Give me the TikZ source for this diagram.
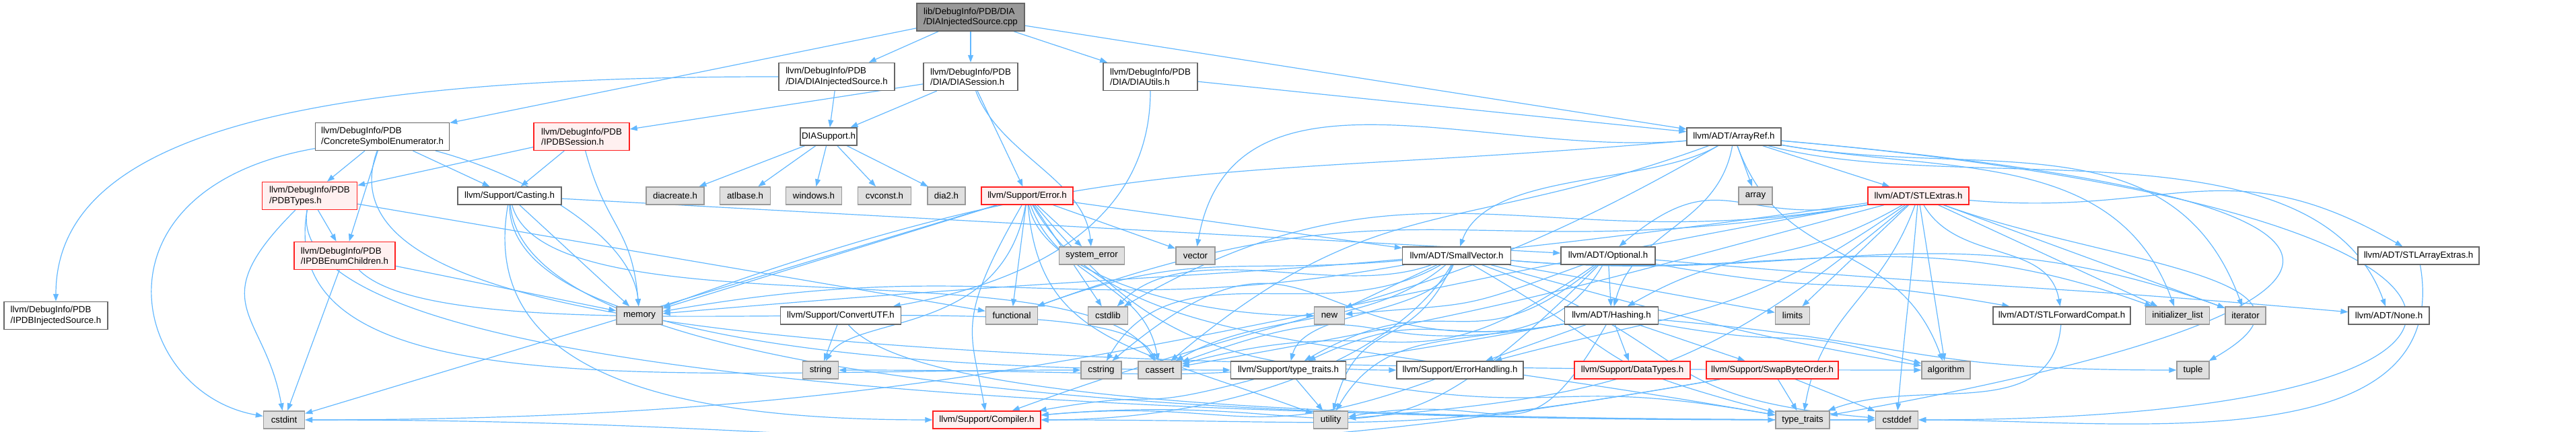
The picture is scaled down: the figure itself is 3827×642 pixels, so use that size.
\documentclass[tikz,border=0pt]{standalone}
\usepackage{fontspec}
\setmainfont{Liberation Sans}
\usetikzlibrary{arrows.meta}
\definecolor{edgec}{HTML}{63B8FF}
\definecolor{redb}{HTML}{FF2020}
\definecolor{redf}{HTML}{FFF0F0}
\definecolor{grayf}{HTML}{E0E0E0}
\definecolor{grayb}{HTML}{999999}
\definecolor{normb}{HTML}{666666}
\definecolor{mainf}{HTML}{999999}
\newcommand{\ndfont}{\fontsize{1.33}{1.54}\selectfont}
\pgfdeclarelayer{edgelayer}
\pgfsetlayers{edgelayer,main}
\tikzset{
  nb/.style={draw=normb, fill=white, line width=0.14pt, minimum height=2.6pt, inner sep=0.2pt, align=left, font=\ndfont, text=black},
  tl/.style={minimum height=4.1pt},
  sy/.style={nb, fill=grayf, draw=grayb},
  tr/.style={nb, fill=redf, draw=redb},
  rt/.style={nb, fill=mainf, draw=normb},
  ed/.style={draw=edgec, line width=0.12pt, -{Triangle[length=1.1pt,width=0.8pt]}}
}
\begin{document}
\begin{tikzpicture}[x=0.1pt,y=0.1pt]
\useasboundingbox (0,0) rectangle (3827,-642);
% rank 0-1
\node[rt,tl,minimum width=16pt] (main) at (1442,-25.5) {lib/DebugInfo/PDB/DIA\\/DIAInjectedSource.cpp};
\node[nb,tl,minimum width=17.2pt] (dias) at (1243,-114) {llvm/DebugInfo/PDB\\/DIA/DIAInjectedSource.h};
\node[nb,tl,minimum width=14pt] (diasess) at (1442,-114) {llvm/DebugInfo/PDB\\/DIA/DIASession.h};
\node[nb,tl,minimum width=14pt] (diautils) at (1709,-114) {llvm/DebugInfo/PDB\\/DIA/DIAUtils.h};
% rank 2
\node[nb,tl,minimum width=19.9pt] (cse) at (568,-203) {llvm/DebugInfo/PDB\\/ConcreteSymbolEnumerator.h};
\node[tr,tl,minimum width=14.2pt] (ipdbsess) at (864,-203) {llvm/DebugInfo/PDB\\/IPDBSession.h};
\node[nb,minimum width=7.7pt] (diasup) at (1231,-203) {DIASupport.h};
\node[nb,minimum width=14pt] (arrayref) at (2576,-203) {llvm/ADT/ArrayRef.h};
% rank 3
\node[tr,tl,minimum width=14.1pt] (pdbtypes) at (460,-291) {llvm/DebugInfo/PDB\\/PDBTypes.h};
\node[nb,minimum width=15.4pt] (casting) at (757,-291) {llvm/Support/Casting.h};
\node[sy,minimum width=8.6pt] (diacreate) at (1003,-291) {diacreate.h};
\node[sy,minimum width=7.5pt] (atlbase) at (1107,-291) {atlbase.h};
\node[sy,minimum width=8.3pt] (windows) at (1209,-291) {windows.h};
\node[sy,minimum width=7.9pt] (cvconst) at (1314,-291) {cvconst.h};
\node[sy,minimum width=5.6pt] (dia2) at (1406,-291) {dia2.h};
\node[tr,minimum width=13.6pt] (error) at (1526,-291) {llvm/Support/Error.h};
\node[sy,minimum width=5pt] (array) at (2608,-291) {array};
\node[tr,minimum width=15pt] (stlextras) at (2850,-291) {llvm/ADT/STLExtras.h};
% rank 4
\node[tr,tl,minimum width=15pt] (ipdbenum) at (512,-380) {llvm/DebugInfo/PDB\\/IPDBEnumChildren.h};
\node[sy,minimum width=9.7pt] (syserr) at (1622,-380) {system\_error};
\node[sy,minimum width=5.8pt] (vector) at (1776,-380) {vector};
\node[nb,minimum width=16.1pt] (smallvec) at (2164,-380) {llvm/ADT/SmallVector.h};
\node[nb,minimum width=14pt] (optional) at (2389,-380) {llvm/ADT/Optional.h};
\node[nb,minimum width=18pt] (stlarrayext) at (3593,-380) {llvm/ADT/STLArrayExtras.h};
% rank 5
\node[nb,tl,minimum width=15.4pt] (ipdbinj) at (83,-469) {llvm/DebugInfo/PDB\\/IPDBInjectedSource.h};
\node[sy,minimum width=6.8pt] (memory) at (950,-469) {memory};
\node[nb,minimum width=17.9pt] (convutf) at (1249,-469) {llvm/Support/ConvertUTF.h};
\node[sy,minimum width=7.7pt] (functional) at (1503,-469) {functional};
\node[sy,minimum width=5.9pt] (cstdlib) at (1646,-469) {cstdlib};
\node[sy,minimum width=4.5pt] (new) at (1975,-469) {new};
\node[nb,minimum width=13.9pt] (hashing) at (2394,-469) {llvm/ADT/Hashing.h};
\node[sy,minimum width=5.1pt] (limits) at (2663,-469) {limits};
\node[nb,minimum width=20.4pt] (stlfwd) at (3063,-469) {llvm/ADT/STLForwardCompat.h};
\node[sy,minimum width=9.5pt] (initlist) at (3235,-469) {initializer\_list};
\node[sy,minimum width=6pt] (iterator) at (3336,-469) {iterator};
\node[nb,minimum width=12pt] (none) at (3549,-469) {llvm/ADT/None.h};
% rank 6
\node[sy,minimum width=5.3pt] (string) at (1219,-550) {string};
\node[sy,minimum width=6pt] (cstring) at (1636,-550) {cstring};
\node[sy,minimum width=6.4pt] (cassert) at (1723,-550) {cassert};
\node[nb,minimum width=17.1pt] (typetraitsh) at (1914,-550) {llvm/Support/type\_traits.h};
\node[nb,minimum width=18.8pt] (errhandling) at (2169,-550) {llvm/Support/ErrorHandling.h};
\node[tr,minimum width=17.2pt] (datatypes) at (2425,-550) {llvm/Support/DataTypes.h};
\node[tr,minimum width=19.6pt] (swapbyte) at (2633,-550) {llvm/Support/SwapByteOrder.h};
\node[sy,minimum width=7.2pt] (algorithm) at (2891,-550) {algorithm};
\node[sy,minimum width=4.8pt] (tuple) at (3258,-550) {tuple};
% rank 7
\node[sy,minimum width=6.1pt] (cstdint) at (422,-624) {cstdint};
\node[tr,minimum width=16pt] (compiler) at (1466,-624) {llvm/Support/Compiler.h};
\node[sy,minimum width=5.1pt] (utility) at (1977,-624) {utility};
\node[sy,minimum width=8pt] (typetraits) at (2678,-624) {type\_traits};
\node[sy,minimum width=6.3pt] (cstddef) at (2818,-624) {cstddef};

\begin{pgfonlayer}{edgelayer}
% main
\draw[ed] (main) -- (cse);
\draw[ed] (main) -- (dias);
\draw[ed] (main) -- (diasess);
\draw[ed] (main) -- (diautils);
\draw[ed] (main) -- (arrayref);
% DIAInjectedSource.h
\draw[ed] (dias) -- (diasup);
\draw[ed] (dias) to[out=180,in=90,out distance=70pt,in distance=25pt] (ipdbinj);
% DIASession.h
\draw[ed] (diasess) -- (ipdbsess);
\draw[ed] (diasess) -- (diasup);
\draw[ed] (diasess) -- (error);
\draw[ed] (diasess) to[out=-70,in=95,distance=10pt] (syserr);
% DIAUtils.h
\draw[ed] (diautils) -- (arrayref);
\draw[ed] (diautils) to[out=-90,in=10,out distance=20pt,in distance=20pt] (convutf);
% DIASupport.h
\draw[ed] (diasup) -- (diacreate);
\draw[ed] (diasup) -- (atlbase);
\draw[ed] (diasup) -- (windows);
\draw[ed] (diasup) -- (cvconst);
\draw[ed] (diasup) -- (dia2);
% ConcreteSymbolEnumerator.h
\draw[ed] (cse) -- (pdbtypes);
\draw[ed] (cse) -- (casting);
\draw[ed] (cse) -- (ipdbenum);
\draw[ed] (cse) to[out=190,in=170,out distance=35pt,in distance=20pt] (cstdint);
\draw[ed] (cse) to[out=-15,in=95,out distance=15pt,in distance=10pt] (memory);
\draw[ed] (cse) to[out=250,in=180,out distance=28pt,in distance=165pt] (algorithm);
% IPDBSession.h
\draw[ed] (ipdbsess) -- (pdbtypes);
\draw[ed] (ipdbsess) -- (casting);
\draw[ed] (ipdbsess) to[out=-75,in=95,distance=12pt] (memory);
% PDBTypes.h
\draw[ed] (pdbtypes) -- (ipdbenum);
\draw[ed] (pdbtypes) -- (functional);
\draw[ed] (pdbtypes) to[out=-135,in=100,out distance=20pt,in distance=15pt] (cstdint);
\draw[ed] (pdbtypes) to[out=-100,in=180,out distance=30pt,in distance=60pt] (cstring);
\draw[ed] (pdbtypes) to[out=-100,in=180,out distance=25pt,in distance=120pt] (cstddef);
% IPDBEnumChildren.h
\draw[ed] (ipdbenum) -- (memory);
\draw[ed] (ipdbenum) -- (cstdint);
\draw[ed] (ipdbenum) to[out=-45,in=115,out distance=20pt,in distance=15pt] (cassert);
% Casting.h
\draw[ed] (casting) -- (optional);
\draw[ed] (casting) -- (memory);
\draw[ed] (casting) to[out=-100,in=180,out distance=25pt,in distance=40pt] (compiler);
\draw[ed] (casting) to[out=-90,in=180,out distance=20pt,in distance=50pt] (typetraitsh);
\draw[ed] (casting) to[out=-75,in=120,distance=20pt] (cassert);
\draw[ed] (casting) to[out=-85,in=180,out distance=25pt,in distance=100pt] (typetraits);
% Error.h
\draw[ed] (error) -- (syserr);
\draw[ed] (error) -- (vector);
\draw[ed] (error) -- (functional);
\draw[ed] (error) -- (cstdlib);
\draw[ed] (error) -- (smallvec);
\draw[ed] (error) -- (cstdint);
\draw[ed] (error) -- (memory);
\draw[ed] (error) to[out=-80,in=180,out distance=10pt,in distance=20pt] (new);
\draw[ed] (error) to[out=-120,in=100,out distance=20pt,in distance=12pt] (compiler);
\draw[ed] (error) to[out=-70,in=100,distance=12pt] (cassert);
\draw[ed] (error) to[out=-100,in=60,out distance=20pt,in distance=8pt] (string);
\draw[ed] (error) to[out=-85,in=160,out distance=20pt,in distance=30pt] (utility);
\draw[ed] (error) to[out=-60,in=170,out distance=25pt,in distance=70pt] (typetraits);
\draw[ed] (error) to[out=-50,in=180,out distance=20pt,in distance=30pt] (errhandling);
% SmallVector.h
\draw[ed] (smallvec) -- (new);
\draw[ed] (smallvec) to[out=-120,in=0,out distance=15pt,in distance=30pt] (compiler);
\draw[ed] (smallvec) to[out=-110,in=75,distance=8pt] (typetraitsh);
\draw[ed] (smallvec) to[out=-15,in=170,distance=30pt] (algorithm);
\draw[ed] (smallvec) to[out=-140,in=30,distance=15pt] (cassert);
\draw[ed] (smallvec) to[out=-20,in=175,distance=35pt] (cstddef);
\draw[ed] (smallvec) to[out=-160,in=45,distance=15pt] (cstdlib);
\draw[ed] (smallvec) to[out=-150,in=60,distance=20pt] (cstring);
\draw[ed] (smallvec) to[out=185,in=20,distance=25pt] (functional);
\draw[ed] (smallvec) to[out=-5,in=160,distance=40pt] (initlist);
\draw[ed] (smallvec) to[out=-5,in=160,distance=45pt] (iterator);
\draw[ed] (smallvec) to[out=-10,in=170,distance=20pt] (limits);
\draw[ed] (smallvec) to[out=190,in=10,distance=50pt] (memory);
\draw[ed] (smallvec) to[out=-30,in=165,distance=30pt] (typetraits);
\draw[ed] (smallvec) to[out=-115,in=75,distance=15pt] (utility);
% Optional.h
\draw[ed] (optional) -- (hashing);
\draw[ed] (optional) to[out=-5,in=175,distance=50pt] (none);
\draw[ed] (optional) to[out=-10,in=170,distance=30pt] (stlfwd);
\draw[ed] (optional) to[out=-135,in=5,distance=50pt] (compiler);
\draw[ed] (optional) to[out=-140,in=30,distance=25pt] (typetraitsh);
\draw[ed] (optional) to[out=-145,in=15,distance=35pt] (cassert);
\draw[ed] (optional) to[out=-160,in=5,distance=20pt] (new);
\draw[ed] (optional) to[out=-120,in=60,distance=20pt] (utility);
% Hashing.h
\draw[ed] (hashing) -- (datatypes);
\draw[ed] (hashing) -- (errhandling);
\draw[ed] (hashing) -- (swapbyte);
\draw[ed] (hashing) to[out=190,in=25,distance=20pt] (typetraitsh);
\draw[ed] (hashing) to[out=-10,in=165,distance=25pt] (algorithm);
\draw[ed] (hashing) to[out=190,in=20,distance=35pt] (cassert);
\draw[ed] (hashing) to[out=190,in=40,distance=40pt] (cstring);
\draw[ed] (hashing) to[out=190,in=0,distance=60pt] (string);
\draw[ed] (hashing) to[out=-5,in=180,distance=40pt] (tuple);
\draw[ed] (hashing) to[out=-120,in=10,distance=25pt] (utility);
% small ones
\draw[ed] (errhandling) to[out=-160,in=5,distance=30pt] (compiler);
\draw[ed] (typetraitsh) to[out=-165,in=10,distance=20pt] (compiler);
\draw[ed] (typetraitsh) to[out=-10,in=170,distance=35pt] (typetraits);
\draw[ed] (typetraitsh) -- (utility);
\draw[ed] (swapbyte) to[out=190,in=0,distance=50pt] (compiler);
\draw[ed] (swapbyte) to[out=190,in=0,distance=100pt] (cstdint);
\draw[ed] (swapbyte) -- (cstddef);
\draw[ed] (swapbyte) -- (typetraits);
\draw[ed] (stlfwd) to[out=-95,in=20,distance=15pt] (typetraits);
\draw[ed] (stlarrayext) to[out=-80,in=0,distance=30pt] (cstddef);
\draw[ed] (convutf) to[out=-50,in=180,out distance=15pt,in distance=80pt] (cstddef);
\draw[ed] (convutf) -- (string);
% ArrayRef.h
\draw[ed] (arrayref) -- (array);
\draw[ed] (arrayref) -- (stlextras);
\draw[ed] (arrayref) to[out=-100,in=75,distance=12pt] (hashing);
\draw[ed] (arrayref) to[out=-15,in=110,distance=30pt] (none);
\draw[ed] (arrayref) to[out=-150,in=70,distance=12pt] (smallvec);
\draw[ed] (arrayref) to[out=-150,in=20,distance=50pt] (compiler);
\draw[ed] (arrayref) to[out=-70,in=110,distance=20pt] (algorithm);
\draw[ed] (arrayref) to[out=200,in=40,distance=40pt] (cassert);
\draw[ed] (arrayref) to[out=-5,in=0,out distance=120pt,in distance=100pt] (cstddef);
\draw[ed] (arrayref) to[out=-10,in=110,distance=25pt] (initlist);
\draw[ed] (arrayref) to[out=-10,in=110,distance=30pt] (iterator);
\draw[ed] (arrayref) to[out=185,in=20,distance=70pt] (memory);
\draw[ed] (arrayref) to[out=-5,in=10,out distance=110pt,in distance=80pt] (typetraits);
\draw[ed] (arrayref) to[out=185,in=80,distance=30pt] (vector);
% STLExtras.h
\draw[ed] (stlextras) -- (algorithm);
\draw[ed] (stlextras) -- (limits);
\draw[ed] (stlextras) -- (initlist);
\draw[ed] (stlextras) -- (iterator);
\draw[ed] (stlextras) to[out=-150,in=30,distance=20pt] (hashing);
\draw[ed] (stlextras) to[out=190,in=40,distance=20pt] (optional);
\draw[ed] (stlextras) to[out=-5,in=150,distance=30pt] (stlarrayext);
\draw[ed] (stlextras) to[out=-60,in=100,distance=10pt] (stlfwd);
\draw[ed] (stlextras) to[out=-145,in=15,distance=30pt] (errhandling);
\draw[ed] (stlextras) to[out=-165,in=10,distance=50pt] (cassert);
\draw[ed] (stlextras) to[out=-95,in=85,distance=15pt] (cstddef);
\draw[ed] (stlextras) to[out=190,in=0,distance=100pt] (cstdint);
\draw[ed] (stlextras) to[out=190,in=30,distance=50pt] (cstdlib);
\draw[ed] (stlextras) to[out=190,in=20,distance=60pt] (functional);
\draw[ed] (stlextras) to[out=188,in=5,distance=90pt] (memory);
\draw[ed] (stlextras) to[out=-20,in=30,distance=25pt] (tuple);
\draw[ed] (stlextras) to[out=-110,in=80,distance=15pt] (typetraits);
\draw[ed] (stlextras) to[out=-140,in=5,distance=40pt] (utility);
\end{pgfonlayer}
\end{tikzpicture}
\end{document}
